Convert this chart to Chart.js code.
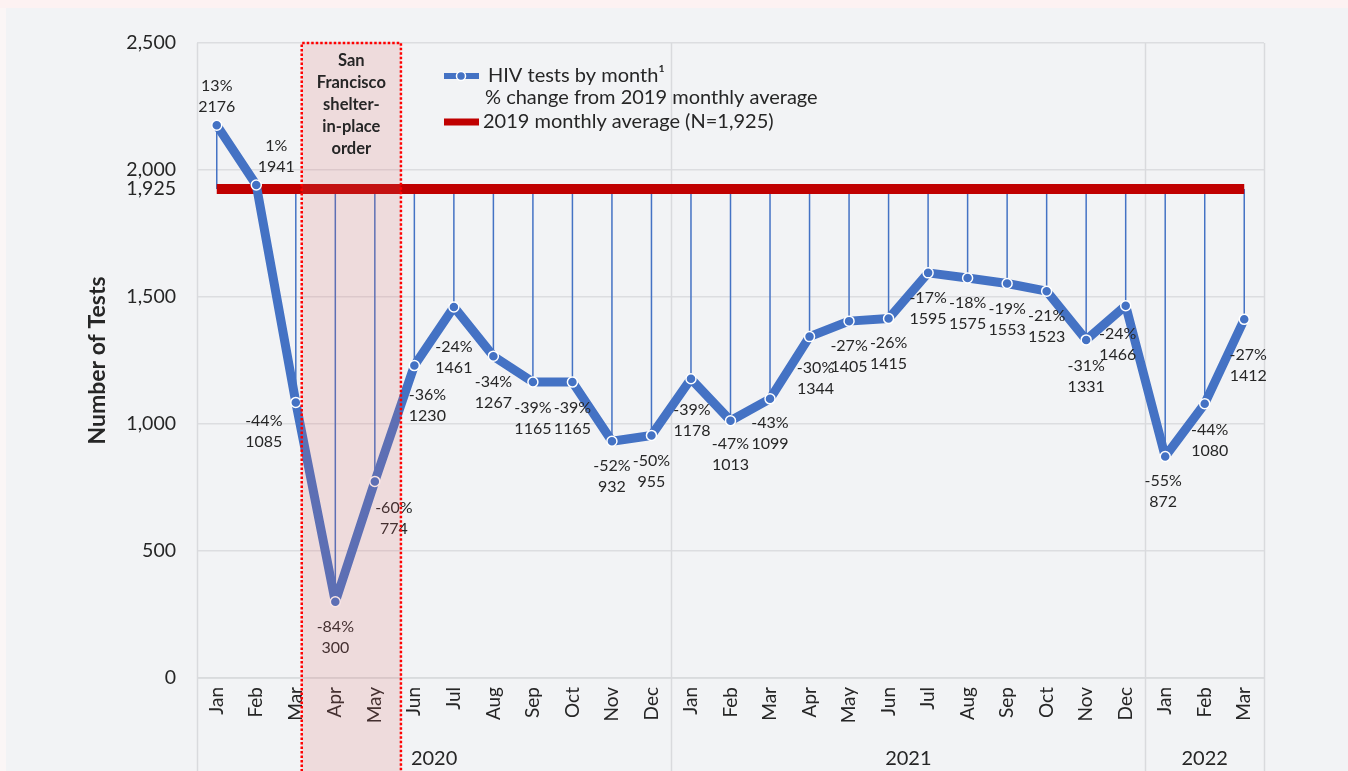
<!DOCTYPE html>
<html>
<head>
<meta charset="utf-8">
<script src="https://cdn.jsdelivr.net/npm/chart.js@4.4.1/dist/chart.umd.min.js"></script>
<style>
  html, body { margin: 0; padding: 0; background: #fbf6f6; }
  #wrap { position: relative; width: 1348px; height: 771px; overflow: hidden; }
  #strip { position: absolute; left: 0; top: 0; width: 1348px; height: 8px; background: #fdf2f2; }
  #panel { position: absolute; left: 6px; top: 8px; right: 0; bottom: 0; background: #f2f3f5; }
  canvas { position: absolute; left: 0; top: 0; }
</style>
</head>
<body>
<div id="wrap">
  <div id="strip"></div>
  <div id="panel"></div>
  <canvas id="testsChart" width="1348" height="771"></canvas>
</div>
<script>
const months = ['Jan', 'Feb', 'Mar', 'Apr', 'May', 'Jun', 'Jul', 'Aug', 'Sep', 'Oct', 'Nov', 'Dec',
                'Jan', 'Feb', 'Mar', 'Apr', 'May', 'Jun', 'Jul', 'Aug', 'Sep', 'Oct', 'Nov', 'Dec',
                'Jan', 'Feb', 'Mar'];
const testsByMonth = [2176, 1941, 1085, 300, 774, 1230, 1461, 1267, 1165, 1165, 932, 955,
                      1178, 1013, 1099, 1344, 1405, 1415, 1595, 1575, 1553, 1523, 1331, 1466,
                      872, 1080, 1412];
const pctChange = [13, 1, -44, -84, -60, -36, -24, -34, -39, -39, -52, -50,
                   -39, -47, -43, -30, -27, -26, -17, -18, -19, -21, -31, -24,
                   -55, -44, -27];
const yearLabels = ['2020', '2021', '2022'];
const yearSpans = [12, 12, 3];
const avg2019 = 1925;
const yTicks = [0, 500, 1000, 1500, 1925, 2000, 2500];
const shelterText = ['San', 'Francisco', 'shelter-', 'in-place', 'order'];

const FONT = 'Lato, "Open Sans", sans-serif';
const TEXT = '#262626';
const BLUE = '#4472c4';
const RED = '#c00000';

// label offsets from each point [dx, dy of first line]
const labelNudge = [
    [0, -39], [20, -39], [-32, 18], [0, 25], [19, 26], [13, 29], [0, 40], [0, 26], [0, 26], [0, 26], [0, 25], [0, 25],
    [1, 31], [0, 23], [0, 24], [6, 31], [0, 25], [0, 24], [0, 25], [0, 25], [0, 25], [0, 25], [0, 26], [-8, 28],
    [-2, 24], [5, 26], [4, 35]
];

const decorations = {
    id: 'decorations',
    beforeDatasetsDraw(chart) {
        const { ctx, chartArea: a, scales: { x, y } } = chart;
        const H = chart.height;
        ctx.save();

        // frame + year separators
        ctx.strokeStyle = '#d9dadd';
        ctx.lineWidth = 1.5;
        const seps = [a.left];
        let idx = 0;
        yearSpans.forEach((n, k) => {
            idx += n;
            if (k < yearSpans.length - 1) {
                seps.push((x.getPixelForTick(idx - 1) + x.getPixelForTick(idx)) / 2);
            }
        });
        seps.push(a.right);
        seps.forEach(px => {
            ctx.beginPath();
            ctx.moveTo(Math.round(px) + 0.5, a.top);
            ctx.lineTo(Math.round(px) + 0.5, H);
            ctx.stroke();
        });
        ctx.beginPath();
        ctx.moveTo(a.left, a.bottom);
        ctx.lineTo(a.right, a.bottom);
        ctx.stroke();

        // drop lines to the 2019 average
        const yAvg = y.getPixelForValue(avg2019);
        ctx.strokeStyle = BLUE;
        ctx.lineWidth = 1.5;
        testsByMonth.forEach((v, i) => {
            const px = x.getPixelForTick(i);
            ctx.beginPath();
            ctx.moveTo(px, y.getPixelForValue(v));
            ctx.lineTo(px, yAvg);
            ctx.stroke();
        });

        // 2019 average bar
        ctx.strokeStyle = RED;
        ctx.lineWidth = 10;
        ctx.beginPath();
        ctx.moveTo(x.getPixelForTick(0), yAvg);
        ctx.lineTo(x.getPixelForTick(months.length - 1), yAvg);
        ctx.stroke();
        ctx.restore();
    },
    afterDatasetsDraw(chart) {
        const { ctx, chartArea: a, scales: { x, y } } = chart;
        const H = chart.height;
        const step = x.getPixelForTick(1) - x.getPixelForTick(0);
        const atIndex = i => x.getPixelForTick(0) + i * step;
        ctx.save();

        // data labels
        ctx.fillStyle = TEXT;
        ctx.font = '16px ' + FONT;
        ctx.textAlign = 'center';
        ctx.textBaseline = 'middle';
        testsByMonth.forEach((v, i) => {
            const px = x.getPixelForTick(i) + labelNudge[i][0];
            const py = y.getPixelForValue(v) + labelNudge[i][1];
            ctx.fillText(pctChange[i] + '%', px, py);
            ctx.fillText(String(v), px, py + 21);
        });

        // shelter-in-place shading
        const bx0 = atIndex(2.15), bx1 = atIndex(4.66);
        const by0 = a.top;
        ctx.fillStyle = 'rgba(220, 100, 100, 0.17)';
        ctx.fillRect(bx0, by0, bx1 - bx0, H - by0);
        ctx.strokeStyle = '#ff0000';
        ctx.lineWidth = 2.5;
        ctx.setLineDash([2.5, 2]);
        ctx.beginPath();
        ctx.moveTo(bx0, H + 5);
        ctx.lineTo(bx0, by0);
        ctx.lineTo(bx1, by0);
        ctx.lineTo(bx1, H + 5);
        ctx.stroke();
        ctx.setLineDash([]);
        ctx.fillStyle = TEXT;
        ctx.font = 'bold 16.5px ' + FONT;
        shelterText.forEach((t, k) => ctx.fillText(t, (bx0 + bx1) / 2, by0 + 18 + k * 22));

        // legend
        const lx = 444, ly = 76;
        ctx.lineWidth = 6;
        ctx.strokeStyle = BLUE;
        ctx.beginPath(); ctx.moveTo(lx, ly); ctx.lineTo(lx + 35, ly); ctx.stroke();
        ctx.beginPath(); ctx.arc(lx + 17, ly, 4.5, 0, Math.PI * 2);
        ctx.fillStyle = BLUE; ctx.fill();
        ctx.lineWidth = 1.5; ctx.strokeStyle = '#fff'; ctx.stroke();
        ctx.strokeStyle = RED; ctx.lineWidth = 7;
        ctx.beginPath(); ctx.moveTo(lx, ly + 46); ctx.lineTo(lx + 35, ly + 46); ctx.stroke();
        ctx.fillStyle = TEXT;
        ctx.font = '20px ' + FONT;
        ctx.textAlign = 'left';
        ctx.fillText('HIV tests by month\u00b9', lx + 44, ly);
        ctx.fillText('% change from 2019 monthly average', lx + 41, ly + 22);
        ctx.fillText('2019 monthly average (N=1,925)', lx + 39, ly + 46);

        // year labels
        ctx.textAlign = 'center';
        ctx.font = '20px ' + FONT;
        let start = 0;
        yearSpans.forEach((n, k) => {
            const cx = (x.getPixelForTick(start) + x.getPixelForTick(start + n - 1)) / 2;
            ctx.fillText(yearLabels[k], cx, 759);
            start += n;
        });

        // y axis title
        ctx.translate(98, (a.top + a.bottom) / 2);
        ctx.rotate(-Math.PI / 2);
        ctx.font = 'bold 23px ' + FONT;
        ctx.fillText('Number of Tests', 0, 0);
        ctx.restore();
    }
};

new Chart(document.getElementById('testsChart').getContext('2d'), {
    type: 'line',
    data: {
        labels: months,
        datasets: [{
            label: 'HIV tests by month',
            data: testsByMonth,
            borderColor: BLUE,
            borderWidth: 9,
            borderJoinStyle: 'bevel',
            tension: 0,
            pointRadius: 5,
            pointBackgroundColor: BLUE,
            pointBorderColor: '#ffffff',
            pointBorderWidth: 1.5,
            fill: false
        }]
    },
    options: {
        responsive: false,
        animation: false,
        layout: { padding: { top: 43, right: 84, left: 0, bottom: 0 } },
        plugins: { legend: { display: false }, tooltip: { enabled: false } },
        scales: {
            x: {
                offset: true,
                grid: { display: false, drawTicks: false },
                border: { display: false },
                ticks: {
                    autoSkip: false, minRotation: 90, maxRotation: 90, padding: 9,
                    color: TEXT, font: { family: FONT, size: 19 }
                },
                afterFit(s) { s.height = 93; }
            },
            y: {
                min: 0,
                max: 2500,
                afterBuildTicks(s) { s.ticks = yTicks.map(v => ({ value: v })); },
                grid: {
                    color: c => (c.tick && c.tick.value === avg2019) ? 'rgba(0,0,0,0)' : '#dcdde0',
                    lineWidth: 1.5,
                    drawTicks: false
                },
                border: { display: false },
                ticks: {
                    autoSkip: false, padding: 21, color: TEXT,
                    font: { family: FONT, size: 19.5 },
                    callback: v => v.toLocaleString('en-US')
                },
                afterFit(s) { s.width = 197; }
            }
        }
    },
    plugins: [decorations]
});
</script>
</body>
</html>
